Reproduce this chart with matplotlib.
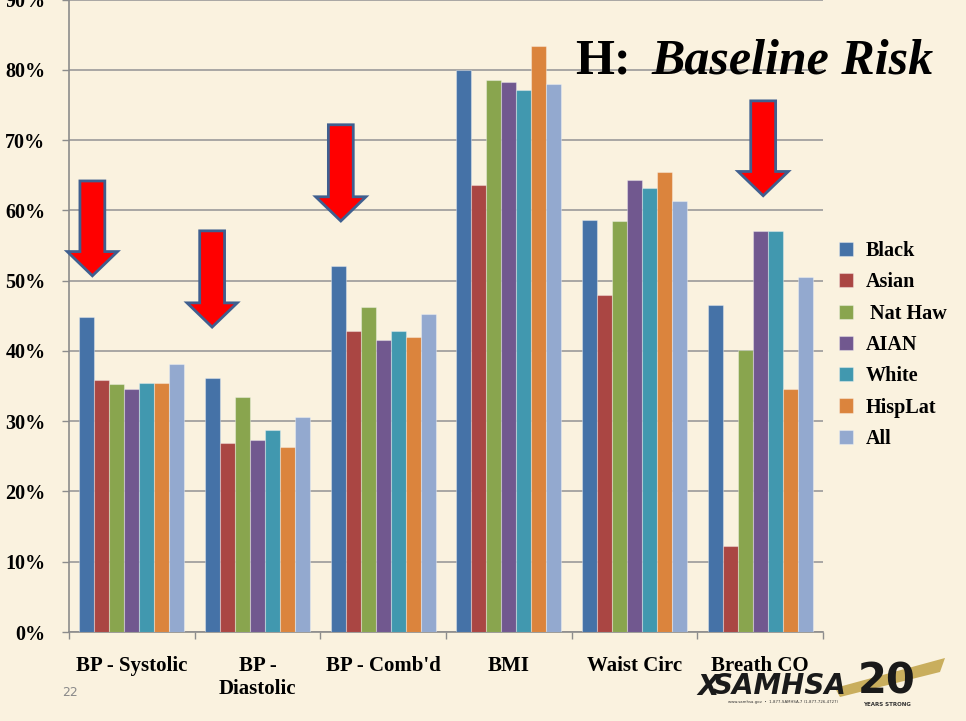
import matplotlib
matplotlib.use("Agg")
import matplotlib.pyplot as plt
from matplotlib.patches import Polygon
import numpy as np

# risk factors by group
categories = ["BP - Systolic", "BP -\nDiastolic", "BP - Comb'd", "BMI", "Waist Circ", "Breath CO"]
groups = ["Black", "Asian", " Nat Haw", "AIAN", "White", "HispLat", "All"]
black = [44.8, 36.2, 52.1, 80.0, 58.6, 46.6]
asian = [35.9, 26.9, 42.8, 63.6, 48.0, 12.2]
nat_haw = [35.3, 33.5, 46.3, 78.6, 58.5, 40.1]
aian = [34.6, 27.3, 41.6, 78.3, 64.3, 57.1]
white = [35.5, 28.8, 42.8, 77.2, 63.2, 57.1]
hisplat = [35.5, 26.3, 42.0, 83.4, 65.5, 34.6]
all_grp = [38.1, 30.6, 45.3, 78.0, 61.4, 50.5]
series = [black, asian, nat_haw, aian, white, hisplat, all_grp]
colors = ["#4572A7", "#AA4643", "#89A54E", "#71588F", "#4198AF", "#DB843D", "#93A9CF"]

# down arrows: (x centre, top, tip) in data units
arrows = [(-0.314, 64.2, 50.7), (0.639, 57.1, 43.4), (1.663, 72.2, 58.5), (5.024, 75.6, 62.1)]

bg = "#FAF2DF"
serif = "Liberation Serif"

fig = plt.figure(figsize=(9.66, 7.21), dpi=100, facecolor=bg)
ax = fig.add_axes([69 / 966, 89 / 721, (823 - 69) / 966, 632.3 / 721])
ax.set_facecolor(bg)

x = np.arange(len(categories))
w = 0.119
for j, (vals, c) in enumerate(zip(series, colors)):
    ax.bar(x + (j - 3) * w, vals, w, color=c, edgecolor=(1, 1, 1, 0.35), linewidth=0.8,
           label=groups[j], zorder=3)

ax.set_xlim(-0.5, 5.5)
ax.set_ylim(0, 90)
ax.set_yticks(np.arange(0, 91, 10))
ax.set_yticklabels([f"{v}%" for v in range(0, 91, 10)], fontfamily=serif,
                   fontweight="bold", fontsize=14.5)
ax.yaxis.grid(True, color="#9a9a9a", linewidth=1.2, zorder=0)
ax.set_axisbelow(True)

ax.set_xticks(x)
ax.set_xticklabels(categories, fontfamily=serif, fontweight="bold", fontsize=15,
                   linespacing=1.2)
ax.tick_params(axis="x", length=0, pad=17)
ax.set_xticks(np.arange(-0.5, 6, 1), minor=True)
ax.tick_params(axis="x", which="minor", length=5, color="#8c8c8c", width=1)
ax.tick_params(axis="y", length=5, color="#8c8c8c", width=1, pad=12)
for side in ["top", "right"]:
    ax.spines[side].set_visible(False)
for side in ["left", "bottom"]:
    ax.spines[side].set_color("#8c8c8c")
    ax.spines[side].set_linewidth(1.2)

# block arrows
for cx, top, tip in arrows:
    sw, hw = 0.099, 0.2
    hb = tip + 3.45
    pts = [(cx - sw, top), (cx + sw, top), (cx + sw, hb), (cx + hw, hb),
           (cx, tip), (cx - hw, hb), (cx - sw, hb)]
    ax.add_patch(Polygon(pts, closed=True, facecolor="#FF0000", edgecolor="#3F5F8F",
                         linewidth=2, zorder=5, clip_on=False))

leg = ax.legend(loc="upper left", bbox_to_anchor=(821 / 966, 1 - 223 / 721),
                bbox_transform=fig.transFigure, frameon=False, handlelength=0.7,
                handleheight=0.7, handletextpad=0.6, labelspacing=0.56,
                prop={"family": serif, "weight": "bold", "size": 14.5})

fig.text(575 / 966, 1 - 62 / 721, "H:", fontfamily=serif, fontweight="bold",
         fontsize=36, va="center", ha="left")
fig.text(651 / 966, 1 - 62 / 721, "Baseline Risk", fontfamily=serif, fontweight="bold",
         fontstyle="italic", fontsize=36, va="center", ha="left")

fig.text(70 / 966, 1 - 693 / 721, "22", fontfamily="DejaVu Sans", fontsize=9,
         color="#8a8a8a", va="center", ha="center")

# logo
fig.patches.append(Polygon([(835 / 966, 1 - 688 / 721), (945 / 966, 1 - 658 / 721),
                            (940 / 966, 1 - 672 / 721), (840 / 966, 1 - 697 / 721)],
                           closed=True, facecolor="#C9AE5D", edgecolor="none",
                           transform=fig.transFigure, zorder=1))
fig.text(697 / 966, 1 - 687 / 721, "X", fontfamily="DejaVu Sans", fontsize=20,
         fontweight="bold", fontstyle="italic", color="#1a1a1a", va="center", zorder=3)
fig.text(713 / 966, 1 - 686 / 721, "SAMHSA", fontfamily="DejaVu Sans", fontsize=20,
         fontweight="bold", fontstyle="italic", color="#1a1a1a", va="center", zorder=3)
fig.text(783 / 966, 1 - 702 / 721, "www.samhsa.gov  \u2022  1-877-SAMHSA-7 (1-877-726-4727)",
         fontsize=2.8, color="#333333", ha="center", va="center")
fig.text(887 / 966, 1 - 682 / 721, "20", fontfamily="DejaVu Sans", fontsize=30,
         fontweight="bold", color="#1a1a1a", ha="center", va="center", zorder=3)
fig.text(887 / 966, 1 - 705 / 721, "YEARS STRONG", fontfamily="DejaVu Sans", fontsize=4,
         fontweight="bold", color="#333333", ha="center", va="center")

fig.savefig("out.png", dpi=100, facecolor=bg)
